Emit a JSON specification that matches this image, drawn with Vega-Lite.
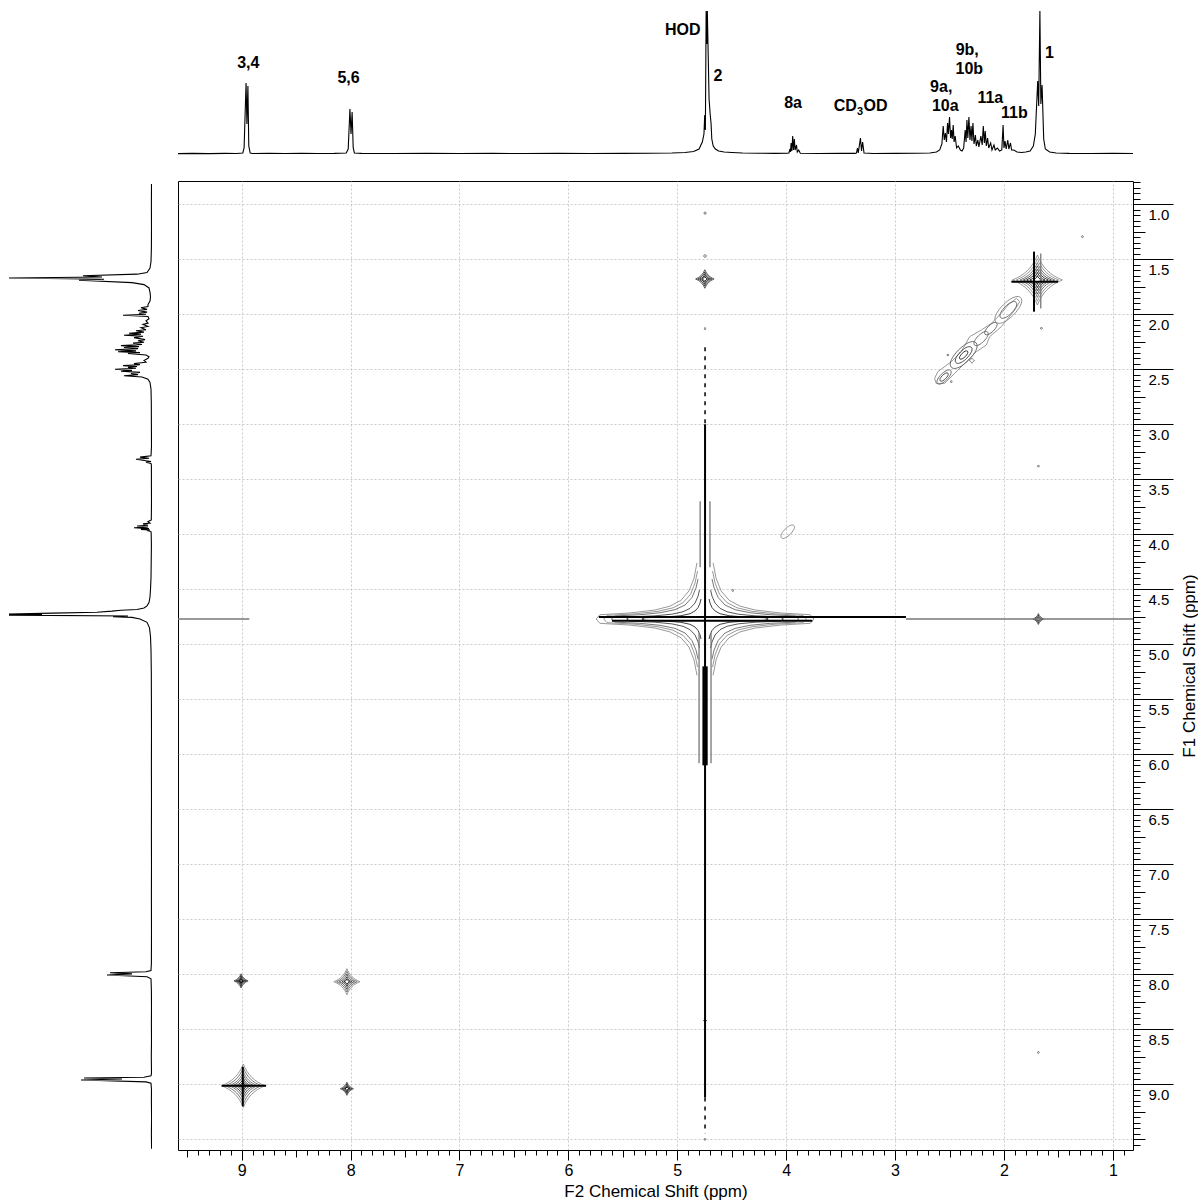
{
"$schema": "https://vega.github.io/schema/vega-lite/v6.json",
"padding": 0,
"background": "white",
"bounds": "flush",
"columns": 2,
"spacing": {"row": 26, "column": 26},
"config": {"view": {"stroke": null}, "font": "Liberation Sans"},
"datasets": {
"spec": [{"ppm":9.585,"i":0.4},{"ppm":9.45,"i":0.6},{"ppm":9.3,"i":0.4},{"ppm":9.15,"i":0.6},{"ppm":9.05,"i":0.5},{"ppm":8.99,"i":1},{"ppm":8.978,"i":6},{"ppm":8.96,"i":71},{"ppm":8.952,"i":30},{"ppm":8.943,"i":68},{"ppm":8.935,"i":8},{"ppm":8.922,"i":1},{"ppm":8.9,"i":0.5},{"ppm":8.75,"i":0.7},{"ppm":8.6,"i":0.5},{"ppm":8.45,"i":0.6},{"ppm":8.3,"i":0.5},{"ppm":8.15,"i":0.6},{"ppm":8.04,"i":1},{"ppm":8.022,"i":5},{"ppm":8.006,"i":45},{"ppm":7.996,"i":20},{"ppm":7.986,"i":42},{"ppm":7.976,"i":6},{"ppm":7.965,"i":1},{"ppm":7.9,"i":0.6},{"ppm":7.6,"i":0.5},{"ppm":7.3,"i":0.6},{"ppm":7.0,"i":0.5},{"ppm":6.7,"i":0.6},{"ppm":6.4,"i":0.5},{"ppm":6.1,"i":0.6},{"ppm":5.8,"i":0.5},{"ppm":5.5,"i":0.6},{"ppm":5.25,"i":0.7},{"ppm":5.05,"i":1},{"ppm":4.93,"i":1.5},{"ppm":4.85,"i":2.5},{"ppm":4.8,"i":5},{"ppm":4.77,"i":12},{"ppm":4.755,"i":20},{"ppm":4.748,"i":39},{"ppm":4.742,"i":24},{"ppm":4.735,"i":143},{"ppm":4.729,"i":110},{"ppm":4.724,"i":143},{"ppm":4.716,"i":99},{"ppm":4.708,"i":55},{"ppm":4.698,"i":40},{"ppm":4.69,"i":31},{"ppm":4.683,"i":15},{"ppm":4.67,"i":8},{"ppm":4.65,"i":5},{"ppm":4.62,"i":3},{"ppm":4.57,"i":2},{"ppm":4.5,"i":1.5},{"ppm":4.4,"i":1},{"ppm":4.25,"i":0.8},{"ppm":4.1,"i":0.6},{"ppm":3.99,"i":0.8},{"ppm":3.975,"i":1},{"ppm":3.965,"i":5},{"ppm":3.96,"i":2},{"ppm":3.955,"i":11},{"ppm":3.948,"i":3},{"ppm":3.94,"i":18},{"ppm":3.933,"i":4},{"ppm":3.925,"i":15},{"ppm":3.918,"i":4},{"ppm":3.905,"i":9},{"ppm":3.898,"i":2},{"ppm":3.885,"i":4},{"ppm":3.87,"i":0.7},{"ppm":3.7,"i":0.5},{"ppm":3.5,"i":0.6},{"ppm":3.37,"i":0.6},{"ppm":3.355,"i":1},{"ppm":3.345,"i":6},{"ppm":3.338,"i":1},{"ppm":3.318,"i":16},{"ppm":3.308,"i":3},{"ppm":3.298,"i":12},{"ppm":3.285,"i":1},{"ppm":3.2,"i":0.5},{"ppm":3.0,"i":0.6},{"ppm":2.8,"i":0.7},{"ppm":2.68,"i":1},{"ppm":2.62,"i":2},{"ppm":2.59,"i":4},{"ppm":2.57,"i":10},{"ppm":2.558,"i":28},{"ppm":2.548,"i":14},{"ppm":2.538,"i":21},{"ppm":2.528,"i":12},{"ppm":2.518,"i":31},{"ppm":2.51,"i":20},{"ppm":2.5,"i":37},{"ppm":2.49,"i":16},{"ppm":2.482,"i":24},{"ppm":2.475,"i":15},{"ppm":2.466,"i":29},{"ppm":2.458,"i":12},{"ppm":2.448,"i":18},{"ppm":2.435,"i":6},{"ppm":2.42,"i":8},{"ppm":2.4,"i":4},{"ppm":2.385,"i":3},{"ppm":2.37,"i":6},{"ppm":2.356,"i":24},{"ppm":2.348,"i":12},{"ppm":2.34,"i":34},{"ppm":2.332,"i":16},{"ppm":2.322,"i":37},{"ppm":2.312,"i":14},{"ppm":2.302,"i":28},{"ppm":2.294,"i":13},{"ppm":2.285,"i":31},{"ppm":2.275,"i":10},{"ppm":2.262,"i":19},{"ppm":2.254,"i":8},{"ppm":2.24,"i":14},{"ppm":2.23,"i":7},{"ppm":2.212,"i":18},{"ppm":2.2,"i":9},{"ppm":2.19,"i":28},{"ppm":2.18,"i":11},{"ppm":2.172,"i":23},{"ppm":2.162,"i":8},{"ppm":2.15,"i":16},{"ppm":2.14,"i":6},{"ppm":2.122,"i":11},{"ppm":2.11,"i":4},{"ppm":2.092,"i":9},{"ppm":2.08,"i":4},{"ppm":2.06,"i":6},{"ppm":2.04,"i":3},{"ppm":2.02,"i":4},{"ppm":2.008,"i":29},{"ppm":2.0,"i":6},{"ppm":1.99,"i":13},{"ppm":1.98,"i":5},{"ppm":1.965,"i":14},{"ppm":1.955,"i":5},{"ppm":1.94,"i":11},{"ppm":1.93,"i":4},{"ppm":1.91,"i":4},{"ppm":1.88,"i":2},{"ppm":1.84,"i":1.5},{"ppm":1.8,"i":2},{"ppm":1.76,"i":3},{"ppm":1.73,"i":8},{"ppm":1.712,"i":20},{"ppm":1.69,"i":73},{"ppm":1.681,"i":48},{"ppm":1.67,"i":143},{"ppm":1.661,"i":50},{"ppm":1.65,"i":69},{"ppm":1.635,"i":15},{"ppm":1.62,"i":5},{"ppm":1.58,"i":2},{"ppm":1.52,"i":1},{"ppm":1.4,"i":0.6},{"ppm":1.2,"i":0.5},{"ppm":1.0,"i":0.6},{"ppm":0.815,"i":0.5}],
"labels": [{"t":"3,4","ppm":8.939,"i":91},{"t":"5,6","ppm":8.019,"i":76},{"t":"HOD","ppm":4.949,"i":124},{"t":"2","ppm":4.627,"i":78},{"t":"8a","ppm":3.937,"i":51},{"t":"9a,","ppm":2.576,"i":67},{"t":"10a","ppm":2.539,"i":48},{"t":"9b,","ppm":2.337,"i":104},{"t":"10b","ppm":2.318,"i":85},{"t":"11a","ppm":2.125,"i":56},{"t":"11b","ppm":1.904,"i":41},{"t":"1","ppm":1.582,"i":101}],
"cd": [{"t":"CD","ppm":3.564,"i":48},{"t":"OD","ppm":3.289,"i":48}],
"sub": [{"t":"3","ppm":3.349,"i":42}],
"contours": [
{"c":"A-L","k":0,"x":4.819,"y":5.281,"l":1},{"c":"A-L","k":1,"x":4.846,"y":5.142,"l":1},{"c":"A-L","k":2,"x":4.892,"y":5.026,"l":1},{"c":"A-L","k":3,"x":4.966,"y":4.94,"l":1},{"c":"A-L","k":4,"x":5.067,"y":4.887,"l":1},{"c":"A-L","k":5,"x":5.205,"y":4.852,"l":1},{"c":"A-L","k":6,"x":5.435,"y":4.825,"l":1},{"c":"A-L","k":7,"x":5.711,"y":4.809,"l":1},{"c":"A-L","k":8,"x":5.745,"y":4.77,"l":1},{"c":"A-L","k":9,"x":5.711,"y":4.731,"l":1},{"c":"A-L","k":10,"x":5.435,"y":4.715,"l":1},{"c":"A-L","k":11,"x":5.205,"y":4.688,"l":1},{"c":"A-L","k":12,"x":5.067,"y":4.653,"l":1},{"c":"A-L","k":13,"x":4.966,"y":4.6,"l":1},{"c":"A-L","k":14,"x":4.892,"y":4.514,"l":1},{"c":"A-L","k":15,"x":4.846,"y":4.398,"l":1},{"c":"A-L","k":16,"x":4.819,"y":4.259,"l":1},
{"c":"A-R","k":0,"x":4.671,"y":5.281,"l":1},{"c":"A-R","k":1,"x":4.644,"y":5.142,"l":1},{"c":"A-R","k":2,"x":4.598,"y":5.026,"l":1},{"c":"A-R","k":3,"x":4.524,"y":4.94,"l":1},{"c":"A-R","k":4,"x":4.423,"y":4.887,"l":1},{"c":"A-R","k":5,"x":4.285,"y":4.852,"l":1},{"c":"A-R","k":6,"x":4.055,"y":4.825,"l":1},{"c":"A-R","k":7,"x":3.779,"y":4.809,"l":1},{"c":"A-R","k":8,"x":3.745,"y":4.77,"l":1},{"c":"A-R","k":9,"x":3.779,"y":4.731,"l":1},{"c":"A-R","k":10,"x":4.055,"y":4.715,"l":1},{"c":"A-R","k":11,"x":4.285,"y":4.688,"l":1},{"c":"A-R","k":12,"x":4.423,"y":4.653,"l":1},{"c":"A-R","k":13,"x":4.524,"y":4.6,"l":1},{"c":"A-R","k":14,"x":4.598,"y":4.514,"l":1},{"c":"A-R","k":15,"x":4.644,"y":4.398,"l":1},{"c":"A-R","k":16,"x":4.671,"y":4.259,"l":1},
{"c":"E-L","k":0,"x":4.814,"y":5.206,"l":1},{"c":"E-L","k":1,"x":4.837,"y":5.097,"l":1},{"c":"E-L","k":2,"x":4.878,"y":4.995,"l":1},{"c":"E-L","k":3,"x":4.947,"y":4.919,"l":1},{"c":"E-L","k":4,"x":5.039,"y":4.872,"l":1},{"c":"E-L","k":5,"x":5.177,"y":4.84,"l":1},{"c":"E-L","k":6,"x":5.388,"y":4.817,"l":1},{"c":"E-L","k":7,"x":5.645,"y":4.803,"l":1},{"c":"E-L","k":8,"x":5.675,"y":4.77,"l":1},{"c":"E-L","k":9,"x":5.645,"y":4.737,"l":1},{"c":"E-L","k":10,"x":5.388,"y":4.723,"l":1},{"c":"E-L","k":11,"x":5.177,"y":4.7,"l":1},{"c":"E-L","k":12,"x":5.039,"y":4.668,"l":1},{"c":"E-L","k":13,"x":4.947,"y":4.621,"l":1},{"c":"E-L","k":14,"x":4.878,"y":4.545,"l":1},{"c":"E-L","k":15,"x":4.837,"y":4.443,"l":1},{"c":"E-L","k":16,"x":4.814,"y":4.334,"l":1},
{"c":"E-R","k":0,"x":4.676,"y":5.206,"l":1},{"c":"E-R","k":1,"x":4.653,"y":5.097,"l":1},{"c":"E-R","k":2,"x":4.612,"y":4.995,"l":1},{"c":"E-R","k":3,"x":4.543,"y":4.919,"l":1},{"c":"E-R","k":4,"x":4.451,"y":4.872,"l":1},{"c":"E-R","k":5,"x":4.313,"y":4.84,"l":1},{"c":"E-R","k":6,"x":4.102,"y":4.817,"l":1},{"c":"E-R","k":7,"x":3.845,"y":4.803,"l":1},{"c":"E-R","k":8,"x":3.815,"y":4.77,"l":1},{"c":"E-R","k":9,"x":3.845,"y":4.737,"l":1},{"c":"E-R","k":10,"x":4.102,"y":4.723,"l":1},{"c":"E-R","k":11,"x":4.313,"y":4.7,"l":1},{"c":"E-R","k":12,"x":4.451,"y":4.668,"l":1},{"c":"E-R","k":13,"x":4.543,"y":4.621,"l":1},{"c":"E-R","k":14,"x":4.612,"y":4.545,"l":1},{"c":"E-R","k":15,"x":4.653,"y":4.443,"l":1},{"c":"E-R","k":16,"x":4.676,"y":4.334,"l":1},
{"c":"B-L","k":0,"x":4.809,"y":5.134,"l":2},{"c":"B-L","k":1,"x":4.828,"y":5.053,"l":2},{"c":"B-L","k":2,"x":4.865,"y":4.966,"l":2},{"c":"B-L","k":3,"x":4.929,"y":4.897,"l":2},{"c":"B-L","k":4,"x":5.021,"y":4.855,"l":2},{"c":"B-L","k":5,"x":5.159,"y":4.827,"l":2},{"c":"B-L","k":6,"x":5.343,"y":4.809,"l":2},{"c":"B-L","k":7,"x":5.573,"y":4.798,"l":2},{"c":"B-L","k":8,"x":5.605,"y":4.77,"l":2},{"c":"B-L","k":9,"x":5.573,"y":4.742,"l":2},{"c":"B-L","k":10,"x":5.343,"y":4.731,"l":2},{"c":"B-L","k":11,"x":5.159,"y":4.713,"l":2},{"c":"B-L","k":12,"x":5.021,"y":4.685,"l":2},{"c":"B-L","k":13,"x":4.929,"y":4.643,"l":2},{"c":"B-L","k":14,"x":4.865,"y":4.574,"l":2},{"c":"B-L","k":15,"x":4.828,"y":4.487,"l":2},{"c":"B-L","k":16,"x":4.809,"y":4.406,"l":2},
{"c":"B-R","k":0,"x":4.681,"y":5.134,"l":2},{"c":"B-R","k":1,"x":4.662,"y":5.053,"l":2},{"c":"B-R","k":2,"x":4.625,"y":4.966,"l":2},{"c":"B-R","k":3,"x":4.561,"y":4.897,"l":2},{"c":"B-R","k":4,"x":4.469,"y":4.855,"l":2},{"c":"B-R","k":5,"x":4.331,"y":4.827,"l":2},{"c":"B-R","k":6,"x":4.147,"y":4.809,"l":2},{"c":"B-R","k":7,"x":3.917,"y":4.798,"l":2},{"c":"B-R","k":8,"x":3.885,"y":4.77,"l":2},{"c":"B-R","k":9,"x":3.917,"y":4.742,"l":2},{"c":"B-R","k":10,"x":4.147,"y":4.731,"l":2},{"c":"B-R","k":11,"x":4.331,"y":4.713,"l":2},{"c":"B-R","k":12,"x":4.469,"y":4.685,"l":2},{"c":"B-R","k":13,"x":4.561,"y":4.643,"l":2},{"c":"B-R","k":14,"x":4.625,"y":4.574,"l":2},{"c":"B-R","k":15,"x":4.662,"y":4.487,"l":2},{"c":"B-R","k":16,"x":4.681,"y":4.406,"l":2},
{"c":"C-L","k":0,"x":4.796,"y":5.034,"l":3},{"c":"C-L","k":1,"x":4.809,"y":4.978,"l":3},{"c":"C-L","k":2,"x":4.837,"y":4.915,"l":3},{"c":"C-L","k":3,"x":4.883,"y":4.867,"l":3},{"c":"C-L","k":4,"x":4.947,"y":4.836,"l":3},{"c":"C-L","k":5,"x":5.049,"y":4.814,"l":3},{"c":"C-L","k":6,"x":5.205,"y":4.799,"l":3},{"c":"C-L","k":7,"x":5.435,"y":4.789,"l":3},{"c":"C-L","k":8,"x":5.465,"y":4.77,"l":3},{"c":"C-L","k":9,"x":5.435,"y":4.751,"l":3},{"c":"C-L","k":10,"x":5.205,"y":4.741,"l":3},{"c":"C-L","k":11,"x":5.049,"y":4.726,"l":3},{"c":"C-L","k":12,"x":4.947,"y":4.704,"l":3},{"c":"C-L","k":13,"x":4.883,"y":4.673,"l":3},{"c":"C-L","k":14,"x":4.837,"y":4.625,"l":3},{"c":"C-L","k":15,"x":4.809,"y":4.562,"l":3},{"c":"C-L","k":16,"x":4.796,"y":4.506,"l":3},
{"c":"C-R","k":0,"x":4.694,"y":5.034,"l":3},{"c":"C-R","k":1,"x":4.681,"y":4.978,"l":3},{"c":"C-R","k":2,"x":4.653,"y":4.915,"l":3},{"c":"C-R","k":3,"x":4.607,"y":4.867,"l":3},{"c":"C-R","k":4,"x":4.543,"y":4.836,"l":3},{"c":"C-R","k":5,"x":4.441,"y":4.814,"l":3},{"c":"C-R","k":6,"x":4.285,"y":4.799,"l":3},{"c":"C-R","k":7,"x":4.055,"y":4.789,"l":3},{"c":"C-R","k":8,"x":4.025,"y":4.77,"l":3},{"c":"C-R","k":9,"x":4.055,"y":4.751,"l":3},{"c":"C-R","k":10,"x":4.285,"y":4.741,"l":3},{"c":"C-R","k":11,"x":4.441,"y":4.726,"l":3},{"c":"C-R","k":12,"x":4.543,"y":4.704,"l":3},{"c":"C-R","k":13,"x":4.607,"y":4.673,"l":3},{"c":"C-R","k":14,"x":4.653,"y":4.625,"l":3},{"c":"C-R","k":15,"x":4.681,"y":4.562,"l":3},{"c":"C-R","k":16,"x":4.694,"y":4.506,"l":3},
{"c":"D-L","k":0,"x":4.782,"y":4.952,"l":4},{"c":"D-L","k":1,"x":4.791,"y":4.915,"l":4},{"c":"D-L","k":2,"x":4.809,"y":4.874,"l":4},{"c":"D-L","k":3,"x":4.837,"y":4.843,"l":4},{"c":"D-L","k":4,"x":4.883,"y":4.818,"l":4},{"c":"D-L","k":5,"x":4.966,"y":4.8,"l":4},{"c":"D-L","k":6,"x":5.095,"y":4.789,"l":4},{"c":"D-L","k":7,"x":5.297,"y":4.782,"l":4},{"c":"D-L","k":8,"x":5.325,"y":4.77,"l":4},{"c":"D-L","k":9,"x":5.297,"y":4.758,"l":4},{"c":"D-L","k":10,"x":5.095,"y":4.751,"l":4},{"c":"D-L","k":11,"x":4.966,"y":4.74,"l":4},{"c":"D-L","k":12,"x":4.883,"y":4.722,"l":4},{"c":"D-L","k":13,"x":4.837,"y":4.697,"l":4},{"c":"D-L","k":14,"x":4.809,"y":4.666,"l":4},{"c":"D-L","k":15,"x":4.791,"y":4.625,"l":4},{"c":"D-L","k":16,"x":4.782,"y":4.588,"l":4},
{"c":"D-R","k":0,"x":4.708,"y":4.952,"l":4},{"c":"D-R","k":1,"x":4.699,"y":4.915,"l":4},{"c":"D-R","k":2,"x":4.681,"y":4.874,"l":4},{"c":"D-R","k":3,"x":4.653,"y":4.843,"l":4},{"c":"D-R","k":4,"x":4.607,"y":4.818,"l":4},{"c":"D-R","k":5,"x":4.524,"y":4.8,"l":4},{"c":"D-R","k":6,"x":4.395,"y":4.789,"l":4},{"c":"D-R","k":7,"x":4.193,"y":4.782,"l":4},{"c":"D-R","k":8,"x":4.165,"y":4.77,"l":4},{"c":"D-R","k":9,"x":4.193,"y":4.758,"l":4},{"c":"D-R","k":10,"x":4.395,"y":4.751,"l":4},{"c":"D-R","k":11,"x":4.524,"y":4.74,"l":4},{"c":"D-R","k":12,"x":4.607,"y":4.722,"l":4},{"c":"D-R","k":13,"x":4.653,"y":4.697,"l":4},{"c":"D-R","k":14,"x":4.681,"y":4.666,"l":4},{"c":"D-R","k":15,"x":4.699,"y":4.625,"l":4},{"c":"D-R","k":16,"x":4.708,"y":4.588,"l":4},
{"c":"G","k":0,"x":2.637,"y":2.582,"l":1},{"c":"G","k":1,"x":2.607,"y":2.521,"l":1},{"c":"G","k":2,"x":2.484,"y":2.431,"l":1},{"c":"G","k":3,"x":2.392,"y":2.34,"l":1},{"c":"G","k":4,"x":2.315,"y":2.203,"l":1},{"c":"G","k":5,"x":2.208,"y":2.143,"l":1},{"c":"G","k":6,"x":2.116,"y":2.082,"l":1},{"c":"G","k":7,"x":2.024,"y":1.991,"l":1},{"c":"G","k":8,"x":1.963,"y":1.915,"l":1},{"c":"G","k":9,"x":1.886,"y":1.855,"l":1},{"c":"G","k":10,"x":1.855,"y":1.885,"l":1},{"c":"G","k":11,"x":1.901,"y":1.961,"l":1},{"c":"G","k":12,"x":2.024,"y":2.112,"l":1},{"c":"G","k":13,"x":2.131,"y":2.203,"l":1},{"c":"G","k":14,"x":2.162,"y":2.279,"l":1},{"c":"G","k":15,"x":2.254,"y":2.34,"l":1},{"c":"G","k":16,"x":2.361,"y":2.446,"l":1},{"c":"G","k":17,"x":2.453,"y":2.537,"l":1},{"c":"G","k":18,"x":2.545,"y":2.628,"l":1},{"c":"G","k":19,"x":2.622,"y":2.628,"l":1},{"c":"G","k":20,"x":2.637,"y":2.582,"l":1}
],
"stars": [
{"x":8.985,"y":9.013,"w":0.4,"l":1},{"x":8.985,"y":9.013,"w":0.33,"l":2},{"x":8.985,"y":9.013,"w":0.26,"l":2},{"x":8.985,"y":9.013,"w":0.2,"l":3},{"x":8.985,"y":9.013,"w":0.14,"l":4},{"x":8.985,"y":9.013,"w":0.09,"l":5},{"x":8.985,"y":9.013,"w":0.05,"l":6},
{"x":9.006,"y":8.06,"w":0.13,"l":3},{"x":9.006,"y":8.06,"w":0.1,"l":4},{"x":9.006,"y":8.06,"w":0.07,"l":5},{"x":9.006,"y":8.06,"w":0.045,"l":6},{"x":9.006,"y":8.06,"w":0.025,"l":6},
{"x":8.034,"y":8.067,"w":0.24,"l":1},{"x":8.034,"y":8.067,"w":0.19,"l":2},{"x":8.034,"y":8.067,"w":0.14,"l":3},{"x":8.034,"y":8.067,"w":0.09,"l":4},{"x":8.034,"y":8.067,"w":0.05,"l":5},
{"x":8.034,"y":9.04,"w":0.12,"l":3},{"x":8.034,"y":9.04,"w":0.09,"l":4},{"x":8.034,"y":9.04,"w":0.06,"l":5},{"x":8.034,"y":9.04,"w":0.035,"l":6},
{"x":1.693,"y":1.688,"w":0.46,"l":1},{"x":1.693,"y":1.688,"w":0.39,"l":1},{"x":1.693,"y":1.688,"w":0.32,"l":2},{"x":1.693,"y":1.688,"w":0.26,"l":3},{"x":1.693,"y":1.688,"w":0.2,"l":4},{"x":1.693,"y":1.688,"w":0.14,"l":5},{"x":1.693,"y":1.688,"w":0.08,"l":6},
{"x":4.747,"y":1.679,"w":0.17,"l":3},{"x":4.747,"y":1.679,"w":0.13,"l":4},{"x":4.747,"y":1.679,"w":0.09,"l":5},{"x":4.747,"y":1.679,"w":0.05,"l":6},
{"x":1.684,"y":4.77,"w":0.1,"l":3},{"x":1.684,"y":4.77,"w":0.07,"l":4},{"x":1.684,"y":4.77,"w":0.04,"l":5},
{"x":1.279,"y":1.294,"w":0.02,"l":2},{"x":1.656,"y":2.127,"w":0.02,"l":2},{"x":2.515,"y":2.37,"w":0.02,"l":2},{"x":2.484,"y":2.612,"w":0.02,"l":2},{"x":1.684,"y":3.38,"w":0.02,"l":2},{"x":1.684,"y":8.71,"w":0.02,"l":2},{"x":4.49,"y":4.51,"w":0.02,"l":2},{"x":4.745,"y":1.08,"w":0.025,"l":2},{"x":4.745,"y":1.47,"w":0.03,"l":2},{"x":4.745,"y":2.13,"w":0.02,"l":2},{"x":4.745,"y":8.42,"w":0.03,"l":3},{"x":4.745,"y":9.5,"w":0.02,"l":2},{"x":2.294,"y":2.421,"w":0.05,"l":1}
],
"ovals": [
{"x":2.55,"y":2.57,"w":0.17,"l":2},{"x":2.55,"y":2.57,"w":0.1,"l":3},{"x":2.37,"y":2.37,"w":0.32,"l":2},{"x":2.37,"y":2.37,"w":0.2,"l":3},{"x":2.37,"y":2.37,"w":0.1,"l":4},{"x":2.21,"y":2.22,"w":0.17,"l":2},{"x":2.12,"y":2.13,"w":0.15,"l":2},{"x":1.96,"y":1.96,"w":0.32,"l":1},{"x":1.96,"y":1.96,"w":0.2,"l":2},{"x":3.986,"y":3.976,"w":0.16,"l":1}
],
"ridge_dark": [
{"x":4.745,"x2":4.745,"y":3.0,"y2":9.12},{"x":5.72,"x2":2.9,"y":4.752,"y2":4.752},{"x":5.6,"x2":3.76,"y":4.786,"y2":4.786},{"x":1.724,"x2":1.724,"y":1.43,"y2":1.976},{"x":1.932,"x2":1.503,"y":1.703,"y2":1.703},{"x":9.184,"x2":8.776,"y":9.013,"y2":9.013},{"x":8.99,"x2":8.99,"y":8.84,"y2":9.2},{"x":4.76,"x2":4.76,"y":5.2,"y2":6.1},{"x":4.73,"x2":4.73,"y":5.2,"y2":6.1}
],
"ridge_gray": [
{"x":2.9,"x2":0.815,"y":4.77,"y2":4.77},{"x":9.585,"x2":8.93,"y":4.77,"y2":4.77},{"x":4.8,"x2":4.8,"y":4.9,"y2":6.08},{"x":4.69,"x2":4.69,"y":4.9,"y2":6.08},{"x":4.79,"x2":4.79,"y":3.7,"y2":4.3},{"x":4.7,"x2":4.7,"y":3.7,"y2":4.3},{"x":1.662,"x2":1.662,"y":1.446,"y2":1.946}
],
"ridge_dash": [
{"x":4.745,"x2":4.745,"y":2.3,"y2":3.0},{"x":4.745,"x2":4.745,"y":9.12,"y2":9.45}
]
},
"concat": [
{
"width": 152, "height": 155,
"data": {"values": [{"a": 1}]},
"mark": {"type": "point", "opacity": 0},
"encoding": {}
},
{
"width": 955, "height": 155,
"layer": [
{"data": {"name": "spec"},
 "mark": {"type": "line", "color": "black", "strokeWidth": 1.1, "clip": true},
 "encoding": {
  "x": {"field": "ppm", "type": "quantitative", "scale": {"domain": [0.815, 9.585], "reverse": true, "nice": false, "zero": false}, "axis": null},
  "y": {"field": "i", "type": "quantitative", "scale": {"domain": [-1, 154], "nice": false, "zero": false}, "axis": null},
  "order": {"field": "ppm", "type": "quantitative"}
 }},
{"data": {"name": "labels"},
 "mark": {"type": "text", "fontWeight": "bold", "fontSize": 16, "font": "Liberation Sans", "color": "black", "align": "center", "baseline": "middle"},
 "encoding": {"x": {"field": "ppm", "type": "quantitative"}, "y": {"field": "i", "type": "quantitative"}, "text": {"field": "t"}}},
{"data": {"name": "cd"},
 "mark": {"type": "text", "fontWeight": "bold", "fontSize": 16, "font": "Liberation Sans", "color": "black", "align": "left", "baseline": "middle"},
 "encoding": {"x": {"field": "ppm", "type": "quantitative"}, "y": {"field": "i", "type": "quantitative"}, "text": {"field": "t"}}},
{"data": {"name": "sub"},
 "mark": {"type": "text", "fontWeight": "bold", "fontSize": 11, "font": "Liberation Sans", "color": "black", "align": "left", "baseline": "middle"},
 "encoding": {"x": {"field": "ppm", "type": "quantitative"}, "y": {"field": "i", "type": "quantitative"}, "text": {"field": "t"}}}
]
},
{
"width": 152, "height": 969,
"data": {"name": "spec"},
"mark": {"type": "line", "color": "black", "strokeWidth": 1.1, "clip": true},
"encoding": {
 "y": {"field": "ppm", "type": "quantitative", "scale": {"domain": [0.788, 9.597], "reverse": true, "nice": false, "zero": false}, "axis": null},
 "x": {"field": "i", "type": "quantitative", "scale": {"domain": [0, 152], "reverse": true, "nice": false, "zero": false}, "axis": null},
 "order": {"field": "ppm", "type": "quantitative"}
}
},
{
"width": 955, "height": 969,
"view": {"stroke": "black", "strokeWidth": 1},
"encoding": {
 "x": {"field": "x", "type": "quantitative",
  "scale": {"domain": [0.815, 9.585], "reverse": true, "nice": false, "zero": false},
  "axis": {
   "orient": "bottom", "title": "F2 Chemical Shift (ppm)", "tickCount": 88, "domain": false,
   "grid": true, "gridColor": "#bdbdbd", "gridDash": [2, 2], "gridWidth": 0.8,
   "gridOpacity": {"condition": {"test": "abs(datum.value - round(datum.value)) < 0.000001", "value": 1}, "value": 0},
   "ticks": true, "tickColor": "black", "tickWidth": 1,
   "tickSize": {"condition": [{"test": "abs(datum.value - round(datum.value)) < 0.000001", "value": 10}, {"test": "abs(datum.value * 2 - round(datum.value * 2)) < 0.000001", "value": 7}], "value": 5},
   "labelExpr": "abs(datum.value - round(datum.value)) < 0.000001 ? format(datum.value, 'd') : ''",
   "labelFont": "Liberation Sans", "labelFontSize": 16, "labelColor": "black", "labelPadding": 2,
   "labelOverlap": false, "labelFlush": false, "labelBound": false,
   "titleFont": "Liberation Sans", "titleFontSize": 17, "titleFontWeight": "normal", "titleColor": "black",
   "titleX": 477.5, "titleY": 41, "titleAlign": "center", "titleBaseline": "middle"
  }},
 "y": {"field": "y", "type": "quantitative",
  "scale": {"domain": [0.788, 9.597], "reverse": true, "nice": false, "zero": false},
  "axis": {
   "orient": "right", "title": "F1 Chemical Shift (ppm)", "tickCount": 176, "domain": false,
   "grid": true, "gridColor": "#bdbdbd", "gridDash": [2, 2], "gridWidth": 0.8,
   "gridOpacity": {"condition": {"test": "abs(datum.value * 2 - round(datum.value * 2)) < 0.000001", "value": 1}, "value": 0},
   "ticks": true, "tickColor": "black", "tickWidth": 1,
   "tickSize": {"condition": [{"test": "abs(datum.value * 2 - round(datum.value * 2)) < 0.000001 && datum.value < 9.4", "value": 40}, {"test": "abs(datum.value * 4 - round(datum.value * 4)) < 0.000001", "value": 12}], "value": 7},
   "labelExpr": "abs(datum.value * 2 - round(datum.value * 2)) < 0.000001 && datum.value < 9.4 ? format(datum.value, '.1f') : ''",
   "labelFont": "Liberation Sans", "labelFontSize": 15, "labelColor": "black", "labelPadding": -25, "labelOffset": 10,
   "labelAlign": "left", "labelBaseline": "middle",
   "labelOverlap": false, "labelFlush": false, "labelBound": false,
   "titleFont": "Liberation Sans", "titleFontSize": 17, "titleFontWeight": "normal", "titleColor": "black",
   "titleAngle": 270, "titleX": 48, "titleY": 484.5, "titleAlign": "center", "titleBaseline": "top"
  }}
},
"layer": [
{"data": {"name": "contours"},
 "mark": {"type": "line", "strokeWidth": 0.9, "clip": true},
 "encoding": {
  "detail": {"field": "c"},
  "order": {"field": "k", "type": "quantitative"},
  "color": {"field": "l", "type": "ordinal", "scale": {"domain": [1, 2, 3, 4, 5, 6], "range": ["#8c8c8c", "#666666", "#444444", "#2a2a2a", "#151515", "#000000"]}, "legend": null}
 }},
{"data": {"name": "ovals"},
 "mark": {"type": "point", "shape": "M-1,0 C-1,-0.55 1,-0.55 1,0 C1,0.55 -1,0.55 -1,0 Z", "filled": false, "strokeWidth": 0.9, "angle": -45, "opacity": 1, "clip": true},
 "encoding": {
  "size": {"field": "w", "type": "quantitative", "scale": {"type": "pow", "exponent": 2, "domain": [0, 1], "range": [0, 11816]}, "legend": null},
  "color": {"field": "l", "type": "ordinal", "scale": {"domain": [1, 2, 3, 4, 5, 6], "range": ["#8c8c8c", "#666666", "#444444", "#2a2a2a", "#151515", "#000000"]}, "legend": null}
 }},
{"data": {"name": "stars"},
 "mark": {"type": "point", "shape": "M0,-1 C0.2,-0.5 0.5,-0.2 1,0 C0.5,0.2 0.2,0.5 0,1 C-0.2,0.5 -0.5,0.2 -1,0 C-0.5,-0.2 -0.2,-0.5 0,-1 Z", "filled": false, "strokeWidth": 0.9, "opacity": 1, "clip": true},
 "encoding": {
  "size": {"field": "w", "type": "quantitative", "scale": {"type": "pow", "exponent": 2, "domain": [0, 1], "range": [0, 11816]}, "legend": null},
  "color": {"field": "l", "type": "ordinal", "scale": {"domain": [1, 2, 3, 4, 5, 6], "range": ["#8c8c8c", "#666666", "#444444", "#2a2a2a", "#151515", "#000000"]}, "legend": null}
 }},
{"data": {"name": "ridge_gray"},
 "mark": {"type": "rule", "color": "#777777", "strokeWidth": 1.3, "clip": true},
 "encoding": {"x2": {"field": "x2"}, "y2": {"field": "y2"}}},
{"data": {"name": "ridge_dark"},
 "mark": {"type": "rule", "color": "black", "strokeWidth": 2, "clip": true},
 "encoding": {"x2": {"field": "x2"}, "y2": {"field": "y2"}}},
{"data": {"name": "ridge_dash"},
 "mark": {"type": "rule", "color": "black", "strokeWidth": 1.5, "strokeDash": [4, 5], "clip": true},
 "encoding": {"x2": {"field": "x2"}, "y2": {"field": "y2"}}}
]
}
]
}
